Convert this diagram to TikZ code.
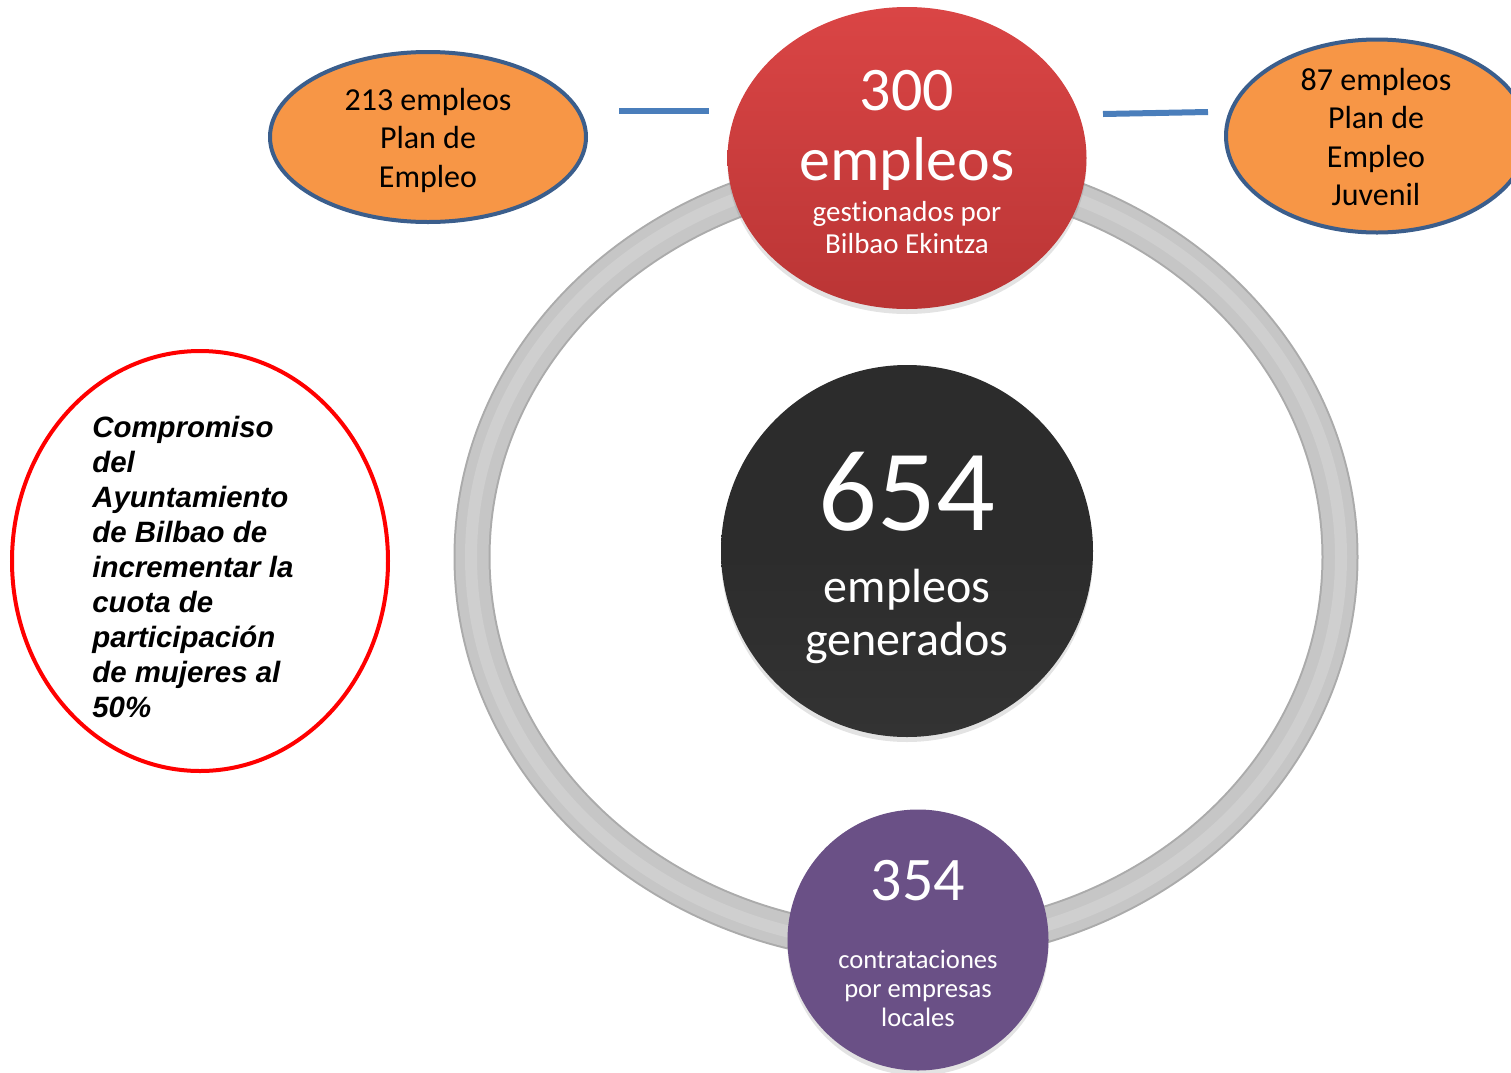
\documentclass[tikz,border=0pt]{standalone}
\usepackage{fontspec}
\setmainfont{Carlito}[Ligatures=NoCommon]
\newfontfamily\arialfont{Liberation Sans}
\usetikzlibrary{shapes.geometric,shadows}
\definecolor{ringgray}{HTML}{C6C6C6}
\definecolor{ringedge}{HTML}{ABABAB}
\definecolor{ringlight}{HTML}{CFCFCF}
\definecolor{redtop}{HTML}{DA4545}
\definecolor{redbot}{HTML}{BA3535}
\definecolor{darkfill}{HTML}{2C2C2C}
\definecolor{darkbot}{HTML}{333333}
\definecolor{purplefill}{HTML}{6A5086}
\definecolor{orangefill}{HTML}{F79646}
\definecolor{navyedge}{HTML}{3B5E8C}
\definecolor{linkblue}{HTML}{4A7EBB}
\definecolor{pureRed}{HTML}{FF0000}
\tikzset{
  bubble/.style={ellipse, inner sep=0pt, draw=none},
  orangebox/.style={ellipse, inner sep=0pt, fill=orangefill, draw=navyedge, line width=2pt},
  whitetxt/.style={text=white, inner sep=0pt, anchor=base},
  blacktxt/.style={text=black, inner sep=0pt, anchor=base},
  linkline/.style={draw=linkblue, line width=3pt},
  softshadow/.style={drop shadow={opacity=0.22, shadow xshift=0pt, shadow yshift=-2.5pt}}
}
\begin{document}
\begin{tikzpicture}[x=0.5pt,y=-0.5pt]
\useasboundingbox (0,0) rectangle (1511,1072);
% ring
\draw[ringedge, line width=18.5pt] (906,557) ellipse [x radius=434, y radius=388];
\draw[ringgray, line width=16.5pt] (906,557) ellipse [x radius=434, y radius=388];
\draw[ringlight, line width=6pt] (906,557) ellipse [x radius=435, y radius=389];

% blue links
\coordinate (l1) at (619,111);
\coordinate (l2) at (709,111);
\coordinate (r1) at (1103,114);
\coordinate (r2) at (1208,112);
\draw[linkline] (l1) -- (l2);
\draw[linkline] (r1) -- (r2);

% red ellipse
\node[bubble, softshadow, top color=redtop, bottom color=redbot, minimum width=179.5pt, minimum height=151pt] (red) at (907,158) {};
\node[whitetxt, font=\fontsize{31}{31}\selectfont] (r300) at (907,110) {300};
\node[whitetxt, font=\fontsize{31}{31}\selectfont] (remp) at (907,180) {empleos};
\node[whitetxt, font=\fontsize{14.5}{14.5}\selectfont] (rges) at (907,221) {gestionados por};
\node[whitetxt, font=\fontsize{14.5}{14.5}\selectfont] (rbil) at (907,253) {Bilbao Ekintza};

% black circle
\node[bubble, softshadow, top color=darkfill, bottom color=darkbot, middle color=darkfill, minimum width=186pt, minimum height=186pt] (black) at (907,551) {};
\node[whitetxt, font=\fontsize{58}{58}\selectfont] (b654) at (907,530) {654};
\node[whitetxt, font=\fontsize{24}{24}\selectfont] (bemp) at (907,602) {empleos};
\node[whitetxt, font=\fontsize{24}{24}\selectfont] (bgen) at (907,655) {generados};

% purple circle
\node[bubble, softshadow, fill=purplefill, minimum width=130.5pt, minimum height=130.5pt] (purple) at (918,940) {};
\node[whitetxt, font=\fontsize{31}{31}\selectfont] (p354) at (918,900) {354};
\node[whitetxt, font=\fontsize{13.3}{13.3}\selectfont] (pc1) at (918,968) {contrataciones};
\node[whitetxt, font=\fontsize{13.3}{13.3}\selectfont] (pc2) at (918,997) {por empresas};
\node[whitetxt, font=\fontsize{13.3}{13.3}\selectfont] (pc3) at (918,1026) {locales};

% left orange
\node[orangebox, minimum width=158pt, minimum height=85pt] (oleft) at (428,137) {};
\node[blacktxt, font=\fontsize{16}{16}\selectfont] (ol1) at (428,110) {213 empleos};
\node[blacktxt, font=\fontsize{16}{16}\selectfont] (ol2) at (428,148) {Plan de};
\node[blacktxt, font=\fontsize{16}{16}\selectfont] (ol3) at (428,187) {Empleo};

% right orange
\node[orangebox, minimum width=151pt, minimum height=96.5pt] (oright) at (1377,136) {};
\node[blacktxt, font=\fontsize{16}{16}\selectfont] (or1) at (1376,90) {87 empleos};
\node[blacktxt, font=\fontsize{16}{16}\selectfont] (or2) at (1376,128) {Plan de};
\node[blacktxt, font=\fontsize{16}{16}\selectfont] (or3) at (1376,167) {Empleo};
\node[blacktxt, font=\fontsize{16}{16}\selectfont] (or4) at (1376,205) {Juvenil};

% red outlined circle
\node[ellipse, inner sep=0pt, draw=pureRed, line width=2pt, minimum width=188pt, minimum height=210pt] (commit) at (200,561) {};
\foreach \t [count=\i] in {Compromiso, del, Ayuntamiento, de Bilbao de, incrementar la, cuota de, participación, de mujeres al, 50\%}{
  \node[inner sep=0pt, anchor=base west, font=\arialfont\bfseries\itshape\fontsize{14.7}{14.7}\selectfont] (c\i) at (92,{437+35*(\i-1)}) {\t};
}
\end{tikzpicture}
\end{document}
